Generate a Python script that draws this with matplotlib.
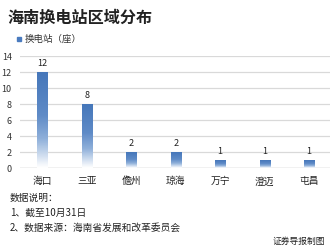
import numpy as np
import matplotlib.pyplot as plt
from matplotlib.colors import LinearSegmentedColormap

plt.rcParams['font.family'] = ['Noto Sans CJK SC', 'DejaVu Sans']

regions = ['海口', '三亚', '儋州', '琼海', '万宁', '澄迈', '屯昌']
stations = [12, 8, 2, 2, 1, 1, 1]
yticks = [0, 2, 4, 6, 8, 10, 12, 14]

fig = plt.figure(figsize=(3.3, 2.5), dpi=100)
ax = fig.add_axes([0.061, 0.328, 0.939, 0.448])

ax.set_yticks(yticks)
ax.set_xticks(range(len(regions)))
ax.set_xticklabels(regions, fontsize=7, color='#222222')
ax.tick_params(axis='y', labelsize=6.5, colors='#333333', length=0, pad=6)
ax.tick_params(axis='x', length=0, pad=6)
for s in ax.spines.values():
    s.set_visible(False)
ax.grid(axis='y', color='#d9d9d9', linewidth=0.9)
ax.axhline(0, color='#cfcfcf', linewidth=1)
ax.set_axisbelow(True)

# bars fade to white toward the baseline
cmap = LinearSegmentedColormap.from_list(
    'fade', [(0, '#ffffff'), (0.3, '#8fb0da'), (0.55, '#5f8bc7'), (1, '#4677ba')])
grad = np.linspace(0, 1, 100).reshape(-1, 1)

bars = ax.bar(range(len(regions)), stations, width=0.23, color='none')
for b, v in zip(bars, stations):
    x0, w, h = b.get_x(), b.get_width(), b.get_height()
    im = ax.imshow(grad, cmap=cmap, extent=[x0, x0 + w, 0, h], origin='lower',
                   aspect='auto', zorder=2)
    im.set_clip_path(b)
    ax.text(x0 + w / 2, h + 0.55, str(v), ha='center', va='bottom',
            fontsize=6.5, color='#222222')

ax.set_xlim(-0.5, 6.47)
ax.set_ylim(0, 14)

fig.text(0.024, 0.93, '海南换电站区域分布', fontsize=11.6, fontweight='bold',
         color='#222222', va='center')
fig.patches.append(plt.Rectangle((0.052, 0.835), 0.013, 0.017, transform=fig.transFigure,
                                 color='#4a7bbf'))
fig.text(0.075, 0.843, '换电站（座）', fontsize=6.8, color='#333333', va='center')

fig.text(0.03, 0.208, '数据说明：', fontsize=7, color='#222222', va='center')
fig.text(0.03, 0.148, '1、截至10月31日', fontsize=7, color='#222222', va='center')
fig.text(0.03, 0.088, '2、数据来源：海南省发展和改革委员会', fontsize=7, color='#222222', va='center')
fig.text(0.985, 0.036, '证券导报制图', fontsize=6.3, color='#222222', va='center', ha='right')

fig.savefig('out.png', dpi=100)
